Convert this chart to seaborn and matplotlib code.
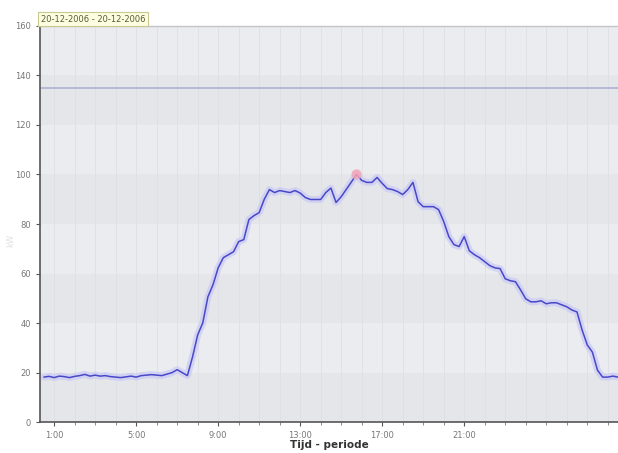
import numpy as np
import pandas as pd
import seaborn as sns
import matplotlib.pyplot as plt

# Quarter-hour readings (hour of day, value)
hours = [0.5, 0.75, 1.0, 1.25, 1.5, 1.75, 2.0, 2.25, 2.5, 2.75, 3.0, 3.25,
         3.5, 3.75, 4.0, 4.25, 4.5, 4.75, 5.0, 5.25, 5.5, 5.75, 6.0, 6.25,
         6.5, 6.75, 7.0, 7.25, 7.5, 7.75, 8.0, 8.25, 8.5, 8.75, 9.0, 9.25,
         9.5, 9.75, 10.0, 10.25, 10.5, 10.75, 11.0, 11.25, 11.5, 11.75, 12.0, 12.25,
         12.5, 12.75, 13.0, 13.25, 13.5, 13.75, 14.0, 14.25, 14.5, 14.75, 15.0, 15.25,
         15.5, 15.75, 16.0, 16.25, 16.5, 16.75, 17.0, 17.25, 17.5, 17.75, 18.0, 18.25,
         18.5, 18.75, 19.0, 19.25, 19.5, 19.75, 20.0, 20.25, 20.5, 20.75, 21.0, 21.25,
         21.5, 21.75, 22.0, 22.25, 22.5, 22.75, 23.0, 23.25, 23.5, 23.75, 24.0, 24.25,
         24.5, 24.75, 25.0, 25.25, 25.5, 25.75, 26.0, 26.25, 26.5, 26.75, 27.0, 27.25,
         27.5, 27.75, 28.0, 28.25, 28.5]
values = [18.2, 18.5, 18.0, 18.6, 18.4, 18.0, 18.5, 18.8, 19.3, 18.6, 19.0, 18.6,
          18.8, 18.4, 18.2, 18.0, 18.3, 18.6, 18.2, 18.8, 19.0, 19.2, 19.0, 18.8,
          19.4, 20.0, 21.2, 20.0, 18.8, 26.3, 35.2, 40.1, 50.6, 55.5, 62.3, 66.4,
          67.6, 68.8, 72.9, 73.7, 81.8, 83.4, 84.6, 90.0, 93.9, 92.7, 93.5, 93.1,
          92.7, 93.5, 92.5, 90.7, 89.9, 89.9, 89.9, 92.7, 94.5, 88.7, 91.0, 94.0,
          97.0, 100.0, 97.6, 96.8, 96.8, 98.8, 96.4, 94.3, 93.9, 93.1, 91.9, 93.9,
          96.8, 89.0, 87.0, 87.0, 87.0, 85.8, 81.0, 74.9, 71.7, 70.9, 74.9, 69.2,
          67.6, 66.4, 64.8, 63.2, 62.3, 62.0, 57.9, 57.1, 56.7, 53.4, 49.8, 48.6,
          48.6, 49.0, 47.8, 48.2, 48.2, 47.4, 46.6, 45.3, 44.5, 37.2, 31.2, 28.3,
          21.0, 18.2, 18.2, 18.6, 18.2]
limit_value = 135
tick_hours = [1, 5, 9, 13, 17, 21]
tick_labels = ['1:00', '5:00', '9:00', '13:00', '17:00', '21:00']
period_text = '20-12-2006 - 20-12-2006'

df = pd.DataFrame({'hour': hours, 'value': values})

sns.set_style('white')
fig = plt.figure(figsize=(6.18, 4.53), dpi=100)
ax = fig.add_axes([0.065, 0.068, 0.935, 0.875])

# alternating horizontal bands
for i, lo in enumerate(range(0, 160, 20)):
    ax.axhspan(lo, lo + 20, color='#e5e6ea' if i % 2 == 0 else '#ebecf0', zorder=0, lw=0)
for h in range(1, 29):
    ax.axvline(h, color='#dfe0e6', lw=0.6, zorder=0.5)

ax.axhline(limit_value, color='#b3b7d6', lw=1.3, zorder=1)

# soft glow under the line
ax.plot(df['hour'], df['value'], color='#c9c9f5', lw=5, alpha=0.7, zorder=2,
        solid_joinstyle='round')
sns.lineplot(data=df, x='hour', y='value', ax=ax, color='#4848c8', lw=1.1, zorder=3)

peak = df.loc[df['value'].idxmax()]
ax.scatter([peak['hour']], [peak['value']], s=55, color='#f2a6b8', alpha=0.85,
           zorder=4, edgecolor='none')

ax.set_xlim(0.32, 28.5)
ax.set_ylim(0, 160)
ax.set_xticks(tick_hours)
ax.set_xticklabels(tick_labels)
ax.set_xticks(range(1, 29), minor=True)
ax.set_yticks(range(0, 161, 20))
ax.tick_params(axis='both', labelsize=6, colors='#555555', length=3, width=0.8,
               direction='out', bottom=True, left=True)
ax.tick_params(axis='x', which='minor', length=2, bottom=True, color='#777777')
for lab in ax.get_xticklabels() + ax.get_yticklabels():
    lab.set_color('#777777')

ax.set_xlabel('Tijd - periode', fontsize=7.5, fontweight='bold', color='#333333', labelpad=0)
ax.set_ylabel('')
fig.text(0.018, 0.47, 'kW', fontsize=6, color='#e0e0e0', rotation=90,
         ha='center', va='center')

for side in ['top', 'right']:
    ax.spines[side].set_visible(False)
ax.spines['left'].set_color('#555555')
ax.spines['left'].set_linewidth(1.2)
ax.spines['bottom'].set_color('#555555')
ax.spines['bottom'].set_linewidth(1.2)
ax.axhline(160, color='#c4c4c8', lw=1.0, zorder=5, clip_on=False)

fig.text(0.066, 0.957, period_text, fontsize=6, color='#5a5a30', va='center', ha='left',
         bbox=dict(boxstyle='square,pad=0.3', facecolor='#fdfde2', edgecolor='#c8c890', lw=0.8))

fig.savefig('out.png', dpi=100)
